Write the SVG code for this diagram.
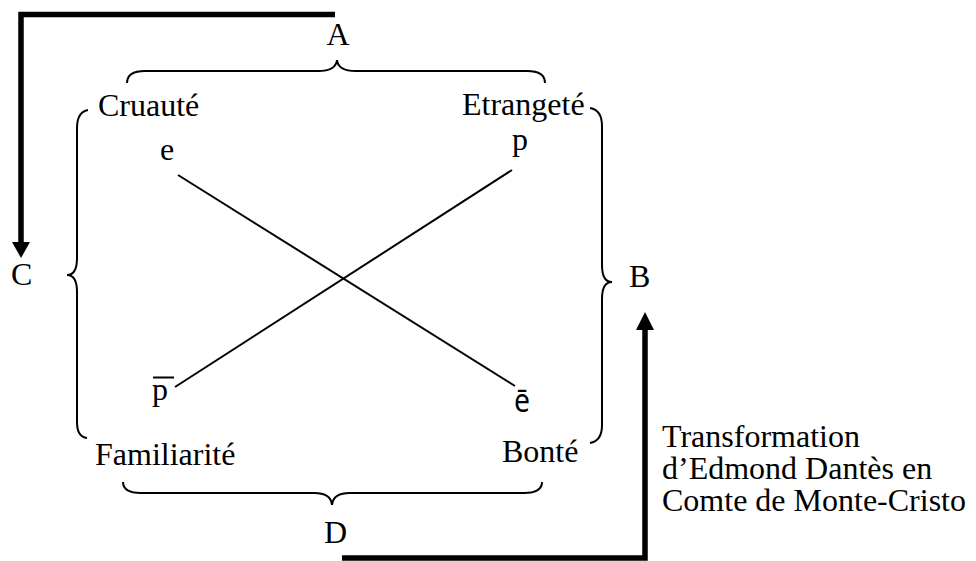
<svg xmlns="http://www.w3.org/2000/svg" width="976" height="561" viewBox="0 0 976 561">
<style>
text{font-family:"Liberation Serif","Times New Roman",serif;font-size:32px;fill:#000}
.sans{font-family:"Noto Sans","DejaVu Sans",sans-serif}
.thin{fill:none;stroke:#000;stroke-width:2}
.thick{fill:none;stroke:#000;stroke-width:5.5}
.head{fill:#000}
</style>
<rect width="976" height="561" fill="#fff"/>
<g id="braces">
<path class="thin" d="M127,83 Q127,71 145,71 H318 Q336,71 337,60 Q338,71 356,71 H527 Q545,71 545,83"/>
<path class="thin" d="M88,110 Q77,112 77,128 V258 Q77,275 67,275 Q77,275 77,292 V422 Q77,437 87,438"/>
<path class="thin" d="M590,108 Q602,110 602,126 V265 Q602,282 612,282 Q602,282 602,299 V425 Q602,441 590,443"/>
<path class="thin" d="M123,482 Q123,493 141,493 H314 Q331,493 332,505 Q333,493 350,493 H524 Q542,493 542,482"/>
</g>
<g id="connectors">
<line class="thin" x1="178" y1="175" x2="515" y2="386"/>
<line class="thin" x1="512" y1="170" x2="175" y2="387"/>
<path class="thick" d="M335,14.5 H21 V244"/>
<polygon class="head" points="12,242 30,242 21,258"/>
<path class="thick" d="M342,558 H645 V328"/>
<polygon class="head" points="636,330 654,330 645,312"/>
</g>
<g id="node-A"><text x="338" y="45" text-anchor="middle">A</text></g>
<g id="node-B"><text x="629" y="287">B</text></g>
<g id="node-C"><text x="11" y="285">C</text></g>
<g id="node-D"><text x="324" y="543">D</text></g>
<g id="node-cruaute"><text x="98" y="116">Cruauté</text></g>
<g id="node-etrangete"><text x="462" y="115">Etrangeté</text></g>
<g id="node-familiarite"><text x="95" y="465">Familiarité</text></g>
<g id="node-bonte"><text x="502" y="462">Bonté</text></g>
<g id="node-e"><text x="167" y="160" text-anchor="middle">e</text></g>
<g id="node-p"><text x="520" y="150" text-anchor="middle">p</text></g>
<g id="node-pbar"><text x="152" y="400">p</text><line x1="153" y1="377.5" x2="174" y2="377.5" stroke="#000" stroke-width="2"/></g>
<g id="node-ebar"><text class="sans" x="514" y="412" font-size="34" textLength="16" lengthAdjust="spacingAndGlyphs">ē</text></g>
<g id="node-transformation">
<text x="662" y="447">Transformation</text>
<text x="662" y="479">d’Edmond Dantès en</text>
<text x="662" y="511">Comte de Monte-Cristo</text>
</g>
</svg>
